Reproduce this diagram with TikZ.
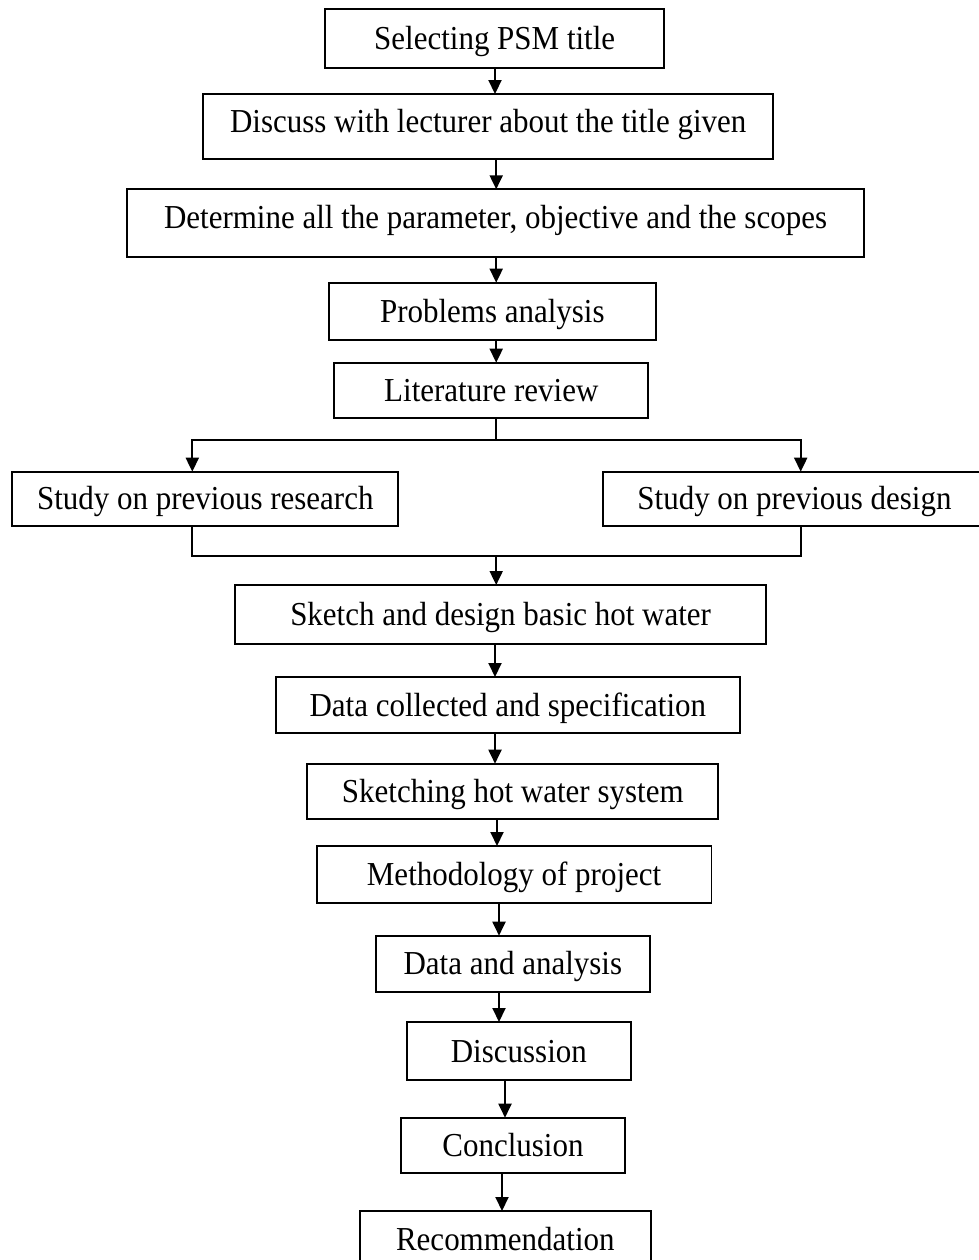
\documentclass[tikz,border=0pt]{standalone}
\usepackage{fontspec}
\setmainfont[FakeStretch=0.925]{Liberation Serif}
\usetikzlibrary{arrows.meta}
\begin{document}
\begin{tikzpicture}[x=1pt,y=-1pt,
  boxnode/.style={draw=black, line width=1.9pt, inner sep=0pt, outer sep=0pt,
    font=\fontsize{33.5pt}{38pt}\selectfont, text height=22pt, text depth=0pt, align=center},
  hightext/.style={text height=11pt},
  conn/.style={line width=1.9pt, draw=black},
  arr/.style={conn, -{Triangle[length=14pt,width=13pt]}}
]
\useasboundingbox (0,0) rectangle (979,1260);
\clip (0,0) rectangle (979,1260);
\fill[white] (0,0) rectangle (979,1260);

\node[boxnode, minimum width=339.3pt, minimum height=58.4pt] (b1) at (494.7,38.5) {Selecting PSM title};
\node[boxnode, hightext, minimum width=569.7pt, minimum height=65.3pt] (b2) at (488.2,126.7) {Discuss with lecturer about the title given};
\node[boxnode, hightext, minimum width=737pt, minimum height=67.4pt] (b3) at (495.5,223) {Determine all the parameter, objective and the scopes};
\node[boxnode, minimum width=327.3pt, minimum height=57.3pt] (b4) at (492.35,311.35) {Problems analysis};
\node[boxnode, minimum width=314pt, minimum height=55pt] (b5) at (491.3,390.2) {Literature review};
\node[boxnode, minimum width=386pt, minimum height=54.3pt] (bl) at (205.3,498.85) {Study on previous research};
\node[boxnode, minimum width=383pt, minimum height=54.3pt] (br) at (794.5,498.85) {Study on previous design};
\node[boxnode, minimum width=531.3pt, minimum height=59pt] (b6) at (500.65,614.5) {Sketch and design basic hot water};
\node[boxnode, minimum width=464.3pt, minimum height=56.3pt] (b7) at (507.85,705.15) {Data collected and specification};
\node[boxnode, minimum width=411pt, minimum height=55pt] (b8) at (512.8,791.2) {Sketching hot water system};
\node[boxnode, minimum width=394.8pt, minimum height=56.7pt] (b9) at (514.1,874.35) {Methodology of project};
\node[boxnode, minimum width=274.3pt, minimum height=56pt] (b10) at (512.85,963.7) {Data and analysis};
\node[boxnode, minimum width=224.3pt, minimum height=58pt] (b11) at (518.85,1051) {Discussion};
\node[boxnode, minimum width=224pt, minimum height=55.3pt] (b12) at (513,1145.35) {Conclusion};
\node[boxnode, minimum width=290.7pt, minimum height=57pt] (b13) at (505.35,1239.5) {Recommendation};

% x positions of connectors
\coordinate (xa) at (495,0);
\coordinate (xb) at (496.2,0);
\coordinate (xl) at (192.3,0);
\coordinate (xr) at (800.7,0);
\coordinate (xc) at (497,0);
\coordinate (xd) at (499,0);
\coordinate (xe) at (505,0);
\coordinate (xf) at (502,0);
\coordinate (split) at (496.2,440);
\coordinate (merge) at (496.2,556);

\draw[arr] (xa |- b1.south) -- (xa |- b2.north);
\draw[arr] (xb |- b2.south) -- (xb |- b3.north);
\draw[arr] (xb |- b3.south) -- (xb |- b4.north);
\draw[arr] (xb |- b4.south) -- (xb |- b5.north);

\draw[conn] (xb |- b5.south) -- (split);
\draw[arr] (split) -| (xl |- bl.north);
\draw[arr] (split) -| (xr |- br.north);

\draw[conn] (xl |- bl.south) |- (merge) -| (xr |- br.south);
\draw[arr] (merge) -- (xb |- b6.north);

\draw[arr] (xa |- b6.south) -- (xa |- b7.north);
\draw[arr] (xa |- b7.south) -- (xa |- b8.north);
\draw[arr] (xc |- b8.south) -- (xc |- b9.north);
\draw[arr] (xd |- b9.south) -- (xd |- b10.north);
\draw[arr] (xd |- b10.south) -- (xd |- b11.north);
\draw[arr] (xe |- b11.south) -- (xe |- b12.north);
\draw[arr] (xf |- b12.south) -- (xf |- b13.north);
\end{tikzpicture}
\end{document}
